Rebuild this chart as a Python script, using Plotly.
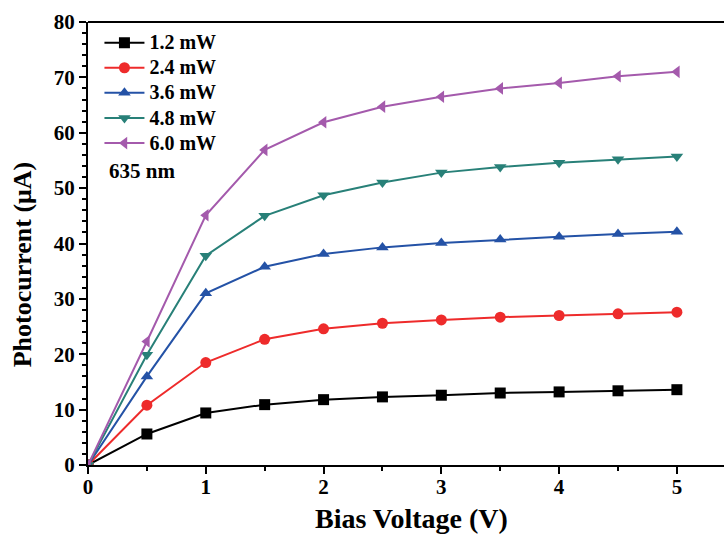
import plotly.graph_objects as go

bias = [0, 0.5, 1, 1.5, 2, 2.5, 3, 3.5, 4, 4.5, 5]
p12 = [0, 5.6, 9.4, 10.9, 11.8, 12.3, 12.6, 13.0, 13.2, 13.4, 13.6]
p24 = [0, 10.8, 18.5, 22.7, 24.6, 25.6, 26.2, 26.7, 27.0, 27.3, 27.6]
p36 = [0, 16.0, 31.0, 35.8, 38.1, 39.3, 40.1, 40.7, 41.2, 41.7, 42.1]
p48 = [0, 19.9, 37.8, 45.0, 48.7, 51.0, 52.8, 53.8, 54.6, 55.2, 55.7]
p60 = [0, 22.3, 45.1, 56.9, 61.9, 64.7, 66.5, 68.0, 69.0, 70.2, 71.0]

labels = ["1.2 mW", "2.4 mW", "3.6 mW", "4.8 mW", "6.0 mW"]
series = [p12, p24, p36, p48, p60]
colors = ["#000000", "#ee2b2b", "#2452a6", "#288078", "#a45aac"]
symbols = ["square", "circle", "triangle-up", "triangle-down", "triangle-left"]

fig = go.Figure()
for lab, ys, c, s in zip(labels, series, colors, symbols):
    fig.add_trace(go.Scatter(
        x=bias, y=ys, name='<span style="font-size:20px">' + lab + '</span>',
        mode="lines+markers",
        line=dict(color=c, width=2),
        marker=dict(symbol=s, size=11, color=c),
    ))

font_family = "Liberation Serif"
fig.update_layout(
    width=724, height=534,
    margin=dict(l=88, r=0, t=22, b=69),
    paper_bgcolor="white", plot_bgcolor="white",
    font=dict(family=font_family, color="black"),
    showlegend=True,
    legend=dict(
        x=0.018, y=0.993, xanchor="left", yanchor="top",
        font=dict(family=font_family, size=17, color="black", weight="bold"),
        bgcolor="rgba(0,0,0,0)", tracegroupgap=0, itemwidth=40,
    ),
    xaxis=dict(
        range=[0, 5.4], tickmode="array", tickvals=[0, 1, 2, 3, 4, 5],
        ticks="outside", ticklen=7, tickwidth=2, tickcolor="black",
        minor=dict(tickvals=[0.5, 1.5, 2.5, 3.5, 4.5], ticks="outside", ticklen=4, tickwidth=2, tickcolor="black"),
        showline=True, linewidth=2, linecolor="black", mirror=False,
        showgrid=False, zeroline=False, ticklabelstandoff=-5,
        tickfont=dict(family=font_family, size=21, color="black", weight="bold"),
    ),
    yaxis=dict(
        range=[0, 80], tickmode="array", tickvals=list(range(0, 81, 10)),
        ticks="outside", ticklen=7, tickwidth=2, tickcolor="black",
        minor=dict(dtick=2, ticks="outside", ticklen=4, tickwidth=1.5, tickcolor="black"),
        showline=True, linewidth=2, linecolor="black",
        showgrid=False, zeroline=False,
        tickfont=dict(family=font_family, size=21, color="black", weight="bold"),
    ),
)
# top frame line
fig.add_shape(type="line", xref="paper", yref="paper", x0=0, x1=1, y0=1, y1=1,
              line=dict(color="black", width=2))
# axis titles
fig.add_annotation(text="Bias Voltage (V)", xref="paper", yref="paper", x=0.509, y=-0.121,
                   xanchor="center", yanchor="middle", showarrow=False,
                   font=dict(family=font_family, size=28, color="black", weight="bold"))
fig.add_annotation(text="Photocurrent (μA)", xref="paper", yref="paper", x=-0.103, y=0.454,
                   xanchor="center", yanchor="middle", showarrow=False, textangle=-90,
                   font=dict(family=font_family, size=26, color="black", weight="bold"))
fig.add_annotation(text="635 nm", xref="paper", yref="paper", x=0.03, y=0.663,
                   xanchor="left", yanchor="middle", showarrow=False,
                   font=dict(family=font_family, size=21, color="black", weight="bold"))

fig.write_html("out.html")
